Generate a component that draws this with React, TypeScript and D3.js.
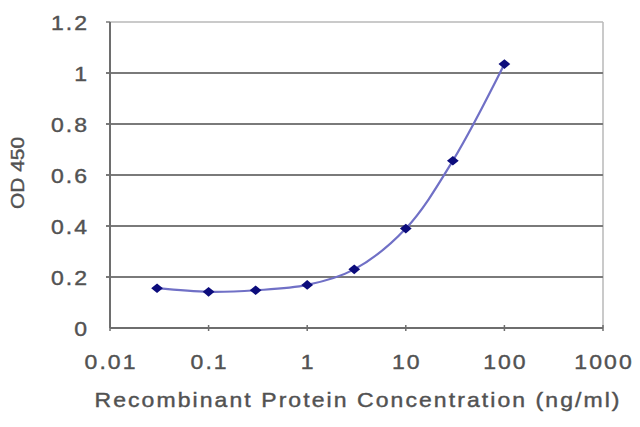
import * as d3 from 'd3'

const concentrations = [0.03, 0.1, 0.3, 1, 3, 10, 30, 100]
const odValues = [0.156, 0.142, 0.148, 0.169, 0.23, 0.39, 0.656, 1.035]
const xTicks = [0.01, 0.1, 1, 10, 100, 1000]
const yTicks = [0, 0.2, 0.4, 0.6, 0.8, 1, 1.2]

const font = 'Arial, "Liberation Sans", sans-serif'
const textColor = '#525252'

// the source image is a little stretched sideways, so labels are widened a bit
function Label({
  x,
  y,
  anchor,
  children,
  size = 20,
  stretch = 1.15,
  spacing = 1.8,
  rotate = 0,
}: {
  x: number
  y: number
  anchor: 'start' | 'middle' | 'end'
  children: React.ReactNode
  size?: number
  stretch?: number
  spacing?: number
  rotate?: number
}) {
  const shift = anchor === 'end' ? spacing : anchor === 'middle' ? spacing / 2 : 0
  return (
    <text
      transform={`translate(${x},${y}) rotate(${rotate}) scale(${stretch},1)`}
      x={shift}
      y={0}
      textAnchor={anchor}
      fontSize={size}
      letterSpacing={spacing}
      fontFamily={font}
      fill={textColor}
      stroke={textColor}
      strokeWidth="0.4"
    >
      {children}
    </text>
  )
}

export default function App() {
  const width = 640
  const height = 427
  const margin = { top: 22, right: 37, bottom: 99, left: 110 }
  const x = d3.scaleLog().domain([0.01, 1000]).range([margin.left, width - margin.right])
  const y = d3.scaleLinear().domain([0, 1.2]).range([height - margin.bottom, margin.top])
  const points = concentrations.map((c, i) => ({ c, v: odValues[i] }))
  const line = d3
    .line<{ c: number; v: number }>()
    .x((d) => x(d.c))
    .y((d) => y(d.v))
    .curve(d3.curveCatmullRom.alpha(0.5))
  const marker = d3.symbol().type(d3.symbolSquare).size(52)()
  const bottom = height - margin.bottom

  return (
    <div style={{ position: 'fixed', left: 0, top: 0 }}>
      <svg width={width} height={height} viewBox={`0 0 ${width} ${height}`} style={{ display: 'block', background: '#fff' }}>
        {/* plot frame, light top and right */}
        <line x1={margin.left} x2={width - margin.right} y1={margin.top} y2={margin.top} stroke="#b8b8b8" strokeWidth="1.5" />
        <line x1={width - margin.right} x2={width - margin.right} y1={margin.top} y2={bottom} stroke="#b8b8b8" strokeWidth="1.5" />

        {yTicks.map((tick) => (
          <g key={tick}>
            {tick > 0 && tick < 1.2 && (
              <line x1={margin.left - 4} x2={width - margin.right} y1={y(tick)} y2={y(tick)} stroke="#7a7a7a" strokeWidth="2" />
            )}
            {tick === 1.2 && (
              <line x1={margin.left - 4} x2={margin.left} y1={y(tick)} y2={y(tick)} stroke="#7a7a7a" strokeWidth="1.5" />
            )}
            <Label x={87} y={y(tick) + 8} anchor="end">
              {tick}
            </Label>
          </g>
        ))}

        {/* axes */}
        <line x1={margin.left} x2={margin.left} y1={margin.top} y2={bottom} stroke="#6e6e6e" strokeWidth="2" />
        <line x1={margin.left} x2={width - margin.right} y1={bottom} y2={bottom} stroke="#6e6e6e" strokeWidth="2" />

        {xTicks.map((tick) => (
          <g key={tick}>
            <line x1={x(tick)} x2={x(tick)} y1={bottom - 3} y2={bottom + 3} stroke="#6e6e6e" strokeWidth="1.5" />
            <Label x={x(tick)} y={bottom + 41} anchor="middle">
              {tick}
            </Label>
          </g>
        ))}

        <path d={line(points) ?? ''} fill="none" stroke="#7070c6" strokeWidth="2.2" />
        {points.map((p) => (
          <path
            key={p.c}
            d={marker ?? ''}
            transform={`translate(${x(p.c)},${y(p.v)}) scale(1.15,0.95) rotate(45)`}
            fill="#0c0c7c"
          />
        ))}

        <Label x={357} y={407} anchor="middle">
          Recombinant Protein Concentration (ng/ml)
        </Label>
        <Label x={24} y={(margin.top + bottom) / 2 - 2} anchor="middle" size={19} stretch={1.1} spacing={0} rotate={-90}>
          OD 450
        </Label>
      </svg>
    </div>
  )
}
